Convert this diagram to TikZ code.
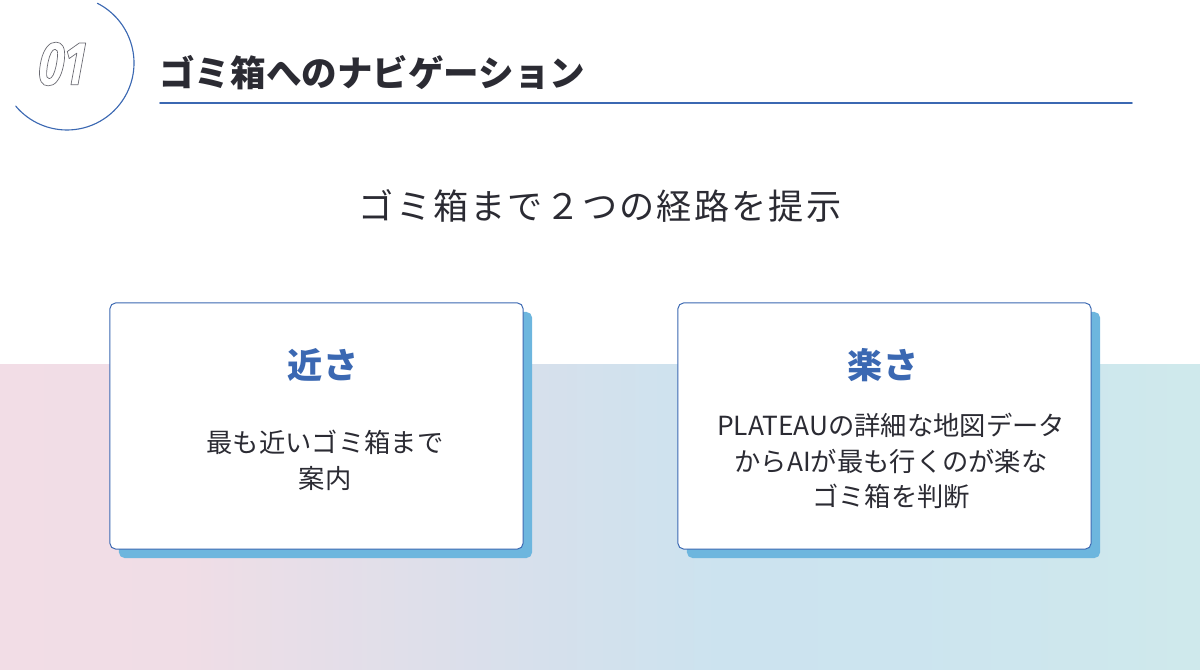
\documentclass[tikz,border=0pt]{standalone}
\usepackage{fontspec}
\setmainfont{Noto Sans CJK JP}
\newfontfamily\spacedfont[LetterSpace=6]{Noto Sans CJK JP}
\newfontfamily\numfont[FakeStretch=0.75, FakeSlant=0.08]{Fira Sans}
\usetikzlibrary{positioning}
\definecolor{accent}{HTML}{3B68B2}
\definecolor{shadowblue}{HTML}{6DB6DE}
\definecolor{inktext}{HTML}{2B2B33}
\definecolor{numgray}{HTML}{6A6A72}
\pgfdeclarehorizontalshading{bandshade}{100bp}{
  rgb(0bp)=(0.949,0.867,0.902);
  rgb(25bp)=(0.949,0.867,0.902);
  rgb(32.5bp)=(0.941,0.867,0.902);
  rgb(47.5bp)=(0.839,0.878,0.925);
  rgb(55bp)=(0.800,0.890,0.937);
  rgb(62.5bp)=(0.800,0.894,0.937);
  rgb(75bp)=(0.812,0.914,0.925);
  rgb(100bp)=(0.812,0.914,0.925)}
\newcommand{\outlinenum}[1]{\special{pdf:literal direct 1 Tr 0.5 w}#1\special{pdf:literal direct 0 Tr}}
\tikzset{
  ringline/.style={draw=accent, line width=0.8pt},
  titlerule/.style={draw=accent, line width=1.1pt},
  numtext/.style={font=\numfont\bfseries\itshape\fontsize{44}{44}\selectfont, text=numgray, inner sep=0pt},
  titletext/.style={font=\bfseries\fontsize{25.3}{25.3}\selectfont, text=inktext, inner sep=0pt},
  leadtext/.style={font=\spacedfont\fontsize{25}{25}\selectfont, text=inktext, inner sep=0pt},
  cardbox/.style={draw=accent, line width=0.7pt, fill=white, rounded corners=4pt,
    minimum width=10.325cm, minimum height=6.15cm, inner sep=0pt},
  cardshadow/.style={fill=shadowblue, rounded corners=4pt,
    minimum width=10.325cm, minimum height=6.15cm, inner sep=0pt},
  cardhead/.style={font=\bfseries\fontsize{25}{25}\selectfont, text=accent, inner sep=0pt},
  cardbody/.style={font=\fontsize{18.7}{25.5}\selectfont, text=inktext, align=center, inner sep=0pt}
}
\begin{document}
\begin{tikzpicture}[x=0.025cm, y=-0.025cm, line join=round, line cap=round]
	\useasboundingbox (0,0) rectangle (1200,669);
	\shade[shading=bandshade] (0,364) rectangle (1200,669);
	% heading
	\draw[ringline] (67,63) ++(-63:67) arc[start angle=-63, end angle=140, radius=67];
	\node[numtext] (num) at (60,64) {\outlinenum{01}};
	\node[titletext, anchor=west] (title) at (159,73) {ゴミ箱へのナビゲーション};
	\path (160,103) coordinate (rulestart) (1132,103) coordinate (ruleend);
	\draw[titlerule] (rulestart)--(ruleend);
	\node[leadtext] (lead) at (600,206) {ゴミ箱まで２つの経路を提示};
	% cards
	\node[cardshadow] (nearshadow) at (325.5,435) {};
	\node[cardbox] (near) at (316.5,426) {};
	\node[cardshadow] (easyshadow) at (893.5,435) {};
	\node[cardbox] (easy) at (884.5,426) {};
	\node[cardhead] (nearhead) at (323,365) {近さ};
	\node[cardhead] (easyhead) at (883,365) {楽さ};
	\node[cardbody] (nearbody) at (325,460) {最も近いゴミ箱まで\\案内};
	\node[cardbody] (easybody) at (891,461) {PLATEAUの詳細な地図データ\\からAIが最も行くのが楽な\\ゴミ箱を判断};
\end{tikzpicture}
\end{document}
